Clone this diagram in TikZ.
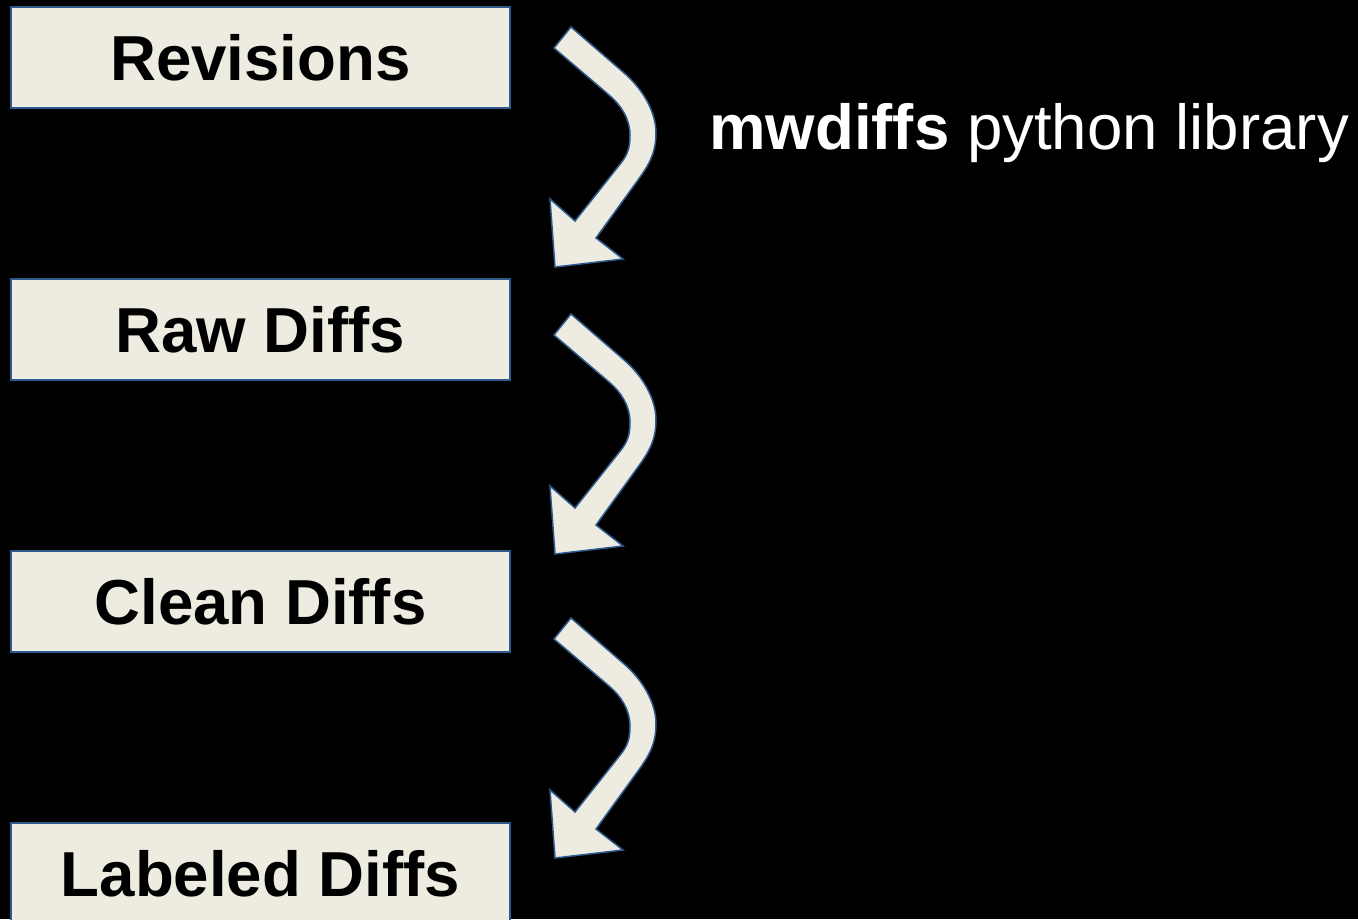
\documentclass[tikz,border=0pt]{standalone}
\usepackage{fontspec}
\setmainfont{Liberation Sans}
\usepackage{xcolor}
\usetikzlibrary{positioning}

\definecolor{paper}{HTML}{EEECE1}
\definecolor{rim}{HTML}{2F5A8E}

\begin{document}
\begin{tikzpicture}[y=-1pt,x=1pt,
	stagebox/.style={draw=rim, fill=paper, line width=2pt, inner sep=0pt,
		minimum width=499pt, minimum height=101pt,
		font=\fontsize{63.6}{70}\selectfont\bfseries},
	bendarrow/.pic={
		\draw[rim, fill=paper, line width=1.5pt, line join=miter]
			(0,0) -- (52,45)
			.. controls (72,62) and (85,85) .. (85,106)
			.. controls (85,127) and (77,139) .. (67,153)
			-- (25,211) -- (52,232) -- (-16,240) -- (-21,172) -- (4,194)
			-- (50,136)
			.. controls (57,127) and (59,120) .. (59,108)
			.. controls (59,92) and (50,78) .. (38,68)
			-- (-17,21) -- cycle;
	}]
	\useasboundingbox (0,0) rectangle (1358,919);
	\fill[black] (0,0) rectangle (1358,919);

	\node[stagebox] (rev) at (260.5,57.5) {Revisions};
	\node[stagebox, below=169pt of rev] (raw) {Raw Diffs};
	\node[stagebox, below=169pt of raw] (clean) {Clean Diffs};
	\node[stagebox, below=169pt of clean] (lab) {Labeled Diffs};

	\pic at ([shift={(60,-30.5)}]rev.east) {bendarrow};
	\pic at ([shift={(60,-15.5)}]raw.east) {bendarrow};
	\pic at ([shift={(60,16.5)}]clean.east) {bendarrow};

	\node[anchor=base west, inner sep=0pt, text=white,
		font=\fontsize{63.6}{70}\selectfont] (lib) at (709,149)
		{\textbf{mwdiffs} python library};
\end{tikzpicture}
\end{document}
